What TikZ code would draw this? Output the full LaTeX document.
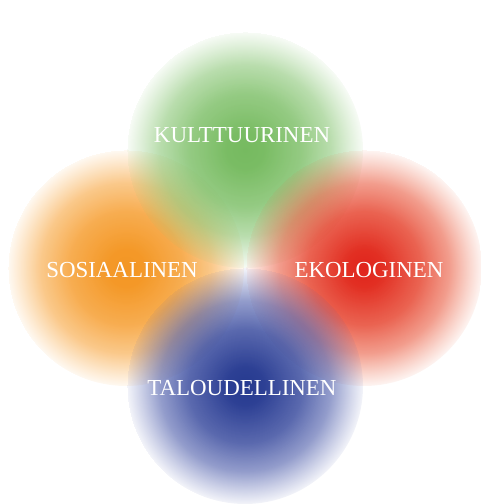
\documentclass[tikz,border=0pt]{standalone}
\usepackage{fontspec}
\usetikzlibrary{fadings}
\setmainfont{Liberation Serif}
\definecolor{cgreen}{RGB}{118,186,96}
\definecolor{cgreenout}{RGB}{140,200,120}
\definecolor{corange}{RGB}{243,150,36}
\definecolor{corangeout}{RGB}{248,165,60}
\definecolor{cred}{RGB}{224,36,28}
\definecolor{credout}{RGB}{236,105,70}
\definecolor{cblue}{RGB}{38,58,143}
\definecolor{cblueout}{RGB}{80,95,175}
\pgfdeclareradialshading{gshade}{\pgfpoint{0bp}{0bp}}{color(0bp)=(cgreen); color(25bp)=(cgreenout)}
\pgfdeclareradialshading{oshade}{\pgfpoint{0bp}{0bp}}{color(0bp)=(corange); color(25bp)=(corangeout)}
\pgfdeclareradialshading{rshade}{\pgfpoint{0bp}{0bp}}{color(0bp)=(cred); color(25bp)=(credout)}
\pgfdeclareradialshading{bshade}{\pgfpoint{0bp}{0bp}}{color(0bp)=(cblue); color(25bp)=(cblueout)}
\pgfdeclareradialshading{fadeshade}{\pgfpoint{0bp}{0bp}}{color(0bp)=(pgftransparent!0); color(4bp)=(pgftransparent!0); color(12bp)=(pgftransparent!16); color(18bp)=(pgftransparent!42); color(22bp)=(pgftransparent!72); color(25bp)=(pgftransparent!94)}
\pgfdeclarefading{cfade}{\pgfuseshading{fadeshade}}
\tikzset{
  blob/.style={path fading=cfade, fit fading=true},
  lbl/.style={text=white, font=\fontsize{23}{26}\selectfont, inner sep=0pt}
}
\begin{document}
\begin{tikzpicture}[x=1bp,y=-1bp]
\useasboundingbox (0,0) rectangle (481,504);
\shade[blob, shading=oshade] (126,268) circle[radius=118];
\shade[blob, shading=gshade] (245,150) circle[radius=118];
\shade[blob, shading=rshade] (364,268) circle[radius=118];
\shade[blob, shading=bshade] (245,386) circle[radius=118];
\node[lbl] (kult) at (242,135) {KULTTUURINEN};
\node[lbl] (sos) at (122,270) {SOSIAALINEN};
\node[lbl] (eko) at (369,270) {EKOLOGINEN};
\node[lbl] (tal) at (242,388) {TALOUDELLINEN};
\end{tikzpicture}
\end{document}
